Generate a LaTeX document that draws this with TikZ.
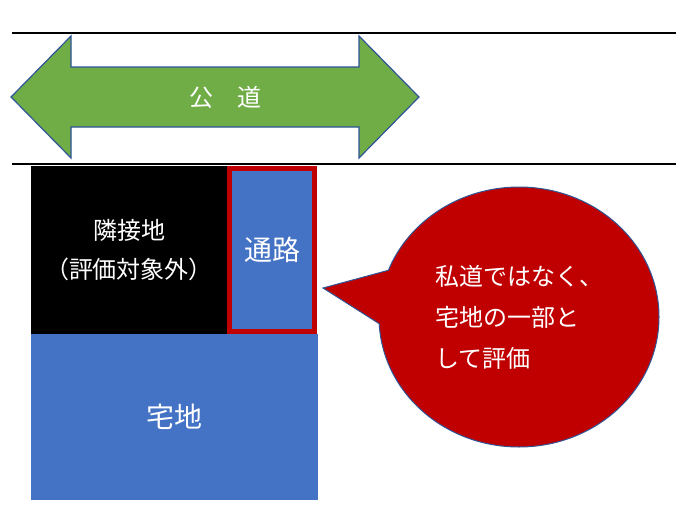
\documentclass[tikz,border=0pt]{standalone}
\usepackage{fontspec}
\usetikzlibrary{shapes.callouts}
\newfontfamily\jp{Noto Sans CJK JP}
\definecolor{roadfill}{RGB}{112,173,71}
\definecolor{edgeblue}{RGB}{47,85,151}
\definecolor{lotfill}{RGB}{68,114,196}
\definecolor{alertred}{RGB}{192,0,0}

\begin{document}
\begin{tikzpicture}[
  x=1pt, y=-1pt,
  plot/.style={inner sep=0pt, outer sep=0pt, text=white},
  roadline/.style={line width=2.5pt, black},
]
\useasboundingbox (0,0) rectangle (680,530);

% ---- Road: two edge lines and the two-way arrow ----
\draw[roadline] (12,33) -- (676,33);
\draw[roadline] (12,164) -- (676,164);
\draw[fill=roadfill, draw=edgeblue, line width=1.2pt]
  (11,97) -- (71,36) -- (71,67) -- (359,67) -- (359,36) -- (419,97)
  -- (359,158) -- (359,127) -- (71,127) -- (71,158) -- cycle;
\node[plot, font=\jp\fontsize{24}{28}\selectfont] (road) at (225,97) {公　道};

% ---- Lots ----
\node[plot, fill=black, minimum width=196, minimum height=168,
      align=center, font=\jp\fontsize{24}{39}\selectfont]
  (neighbour) at (129,250) {隣接地\\（評価対象外）};
\node[plot, fill=lotfill, draw=alertred, line width=5pt,
      minimum width=85, minimum height=163,
      font=\jp\fontsize{28}{32}\selectfont]
  (passage) at (272,250) {通路};
\node[plot, fill=lotfill, minimum width=287, minimum height=166,
      font=\jp\fontsize{28}{32}\selectfont]
  (site) at (174.5,417) {宅地};

% ---- Callout pointing at the passage ----
\coordinate (tip) at (323,288);
\node[ellipse callout, callout absolute pointer=(tip), callout pointer arc=24,
      fill=alertred, draw=edgeblue, line width=1pt, text=white,
      minimum width=280, minimum height=260, align=left,
      font=\jp\fontsize{24}{41}\selectfont]
  (note) at (519,317) {私道ではなく、\\宅地の一部と\\して評価};
\end{tikzpicture}
\end{document}
